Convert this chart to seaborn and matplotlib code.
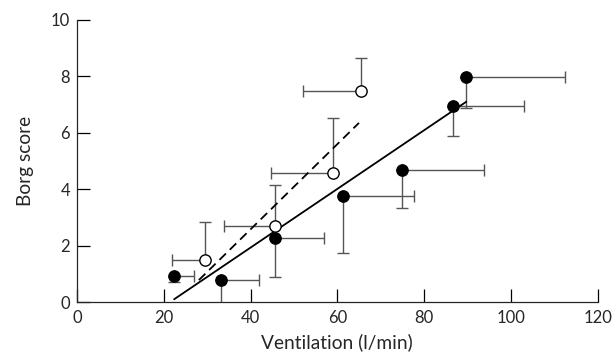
#!/usr/bin/env python3

import matplotlib
matplotlib.use("Agg")
import matplotlib.pyplot as plt
import seaborn as sns
import pandas as pd

# filled circles: x err to the right, y err downward
filled_x = [22.4, 33.1, 45.6, 61.4, 74.9, 86.7, 89.7]
filled_y = [0.92, 0.80, 2.26, 3.77, 4.68, 6.95, 7.97]
filled_x_hi = [27.0, 42.0, 57.0, 77.6, 93.7, 103.1, 112.4]
filled_y_lo = [0.72, -0.05, 0.90, 1.75, 3.32, 5.89, 6.87]

# open circles: x err to the left, y err upward
open_x = [29.5, 45.6, 58.9, 65.4]
open_y = [1.48, 2.71, 4.59, 7.49]
open_x_lo = [21.8, 33.8, 44.7, 52.1]
open_y_hi = [2.85, 4.14, 6.54, 8.66]

# regression lines (start x, end x, slope, intercept)
solid_fit = (22.4, 89.7, 0.104, 0.1 - 0.104 * 22.4)
dashed_fit = (28.1, 65.0, 0.151, 0.78 - 0.151 * 28.1)

ERR_COLOUR = "#555555"

sns.set_style("ticks")
plt.rcParams["font.family"] = ["Lato", "DejaVu Sans"]

fig = plt.figure(figsize=(6.15, 3.55), dpi=100)
ax = fig.add_axes([0.125, 0.149, 0.847, 0.795])

df_f = pd.DataFrame({"x": filled_x, "y": filled_y})
df_o = pd.DataFrame({"x": open_x, "y": open_y})

ax.errorbar(
    filled_x,
    filled_y,
    xerr=[[0] * len(filled_x), [h - x for h, x in zip(filled_x_hi, filled_x)]],
    yerr=[[y - l for y, l in zip(filled_y, filled_y_lo)], [0] * len(filled_y)],
    fmt="none",
    ecolor=ERR_COLOUR,
    elinewidth=1.0,
    capsize=4.5,
    capthick=1.0,
    zorder=2,
)
ax.errorbar(
    open_x,
    open_y,
    xerr=[[x - l for x, l in zip(open_x, open_x_lo)], [0] * len(open_x)],
    yerr=[[0] * len(open_y), [h - y for h, y in zip(open_y_hi, open_y)]],
    fmt="none",
    ecolor=ERR_COLOUR,
    elinewidth=1.0,
    capsize=4.5,
    capthick=1.0,
    zorder=2,
)

for (x0, x1, m, b), ls in [(solid_fit, "-"), (dashed_fit, (0, (5, 3)))]:
    fit_df = pd.DataFrame({"x": [x0, x1], "y": [m * x0 + b, m * x1 + b]})
    sns.lineplot(data=fit_df, x="x", y="y", ax=ax, color="black",
                 linewidth=1.3, linestyle=ls, zorder=3)

sns.scatterplot(data=df_f, x="x", y="y", ax=ax, color="black",
                edgecolor="black", s=66, linewidth=1.0, zorder=4)
sns.scatterplot(data=df_o, x="x", y="y", ax=ax, color="white",
                edgecolor="black", s=66, linewidth=1.0, zorder=4)

ax.set_xlim(0, 120)
ax.set_ylim(0, 10)
ax.set_xticks(range(0, 121, 20))
ax.set_yticks(range(0, 11, 2))
ax.tick_params(direction="in", length=9.5, width=0.9, labelsize=12,
               color="black")
ax.tick_params(axis="x", pad=6)
ax.tick_params(axis="y", pad=5)
for side in ["top", "right"]:
    ax.spines[side].set_visible(False)
for side in ["left", "bottom"]:
    ax.spines[side].set_linewidth(0.9)
ax.set_xlabel("Ventilation (l/min)", fontsize=13.8, labelpad=5)
ax.set_ylabel("Borg score", fontsize=13.8, labelpad=12)

plt.savefig("out.png", dpi=100)
